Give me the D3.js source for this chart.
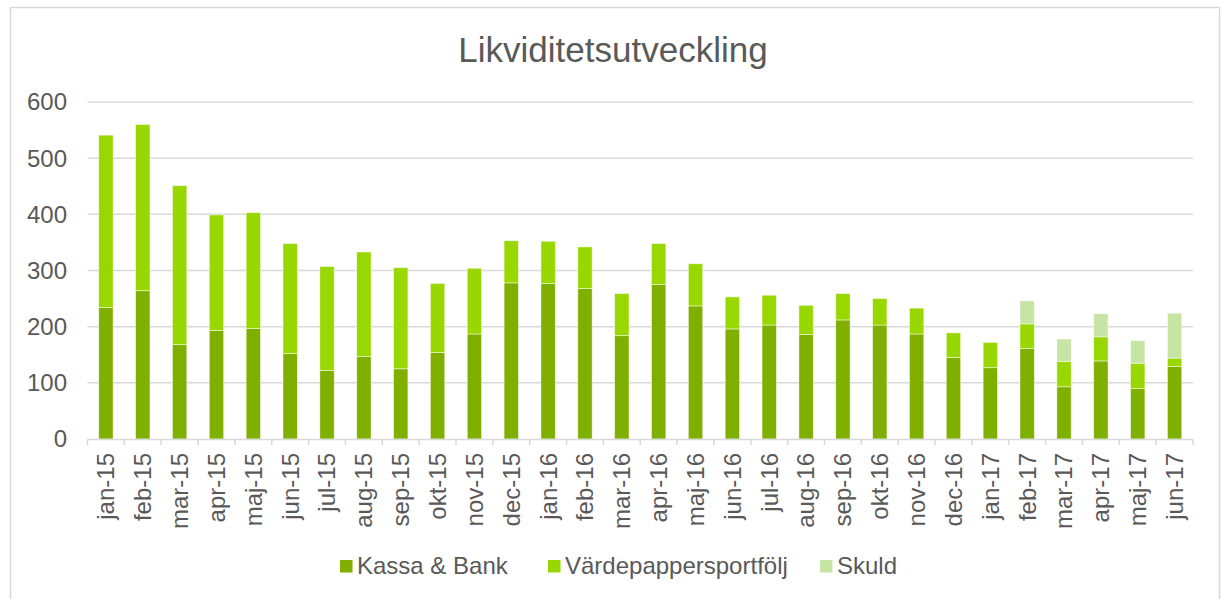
<!DOCTYPE html>
<html>
<head>
<meta charset="utf-8">
<script src="https://cdn.jsdelivr.net/npm/d3@7"></script>
<style>
  body { margin: 0; background: #fff; }
  text { font-family: "Liberation Sans", Arial, sans-serif; fill: #595959; }
</style>
</head>
<body>
<div id="chart"></div>
<script>
// months on the x axis
var months = ["jan-15", "feb-15", "mar-15", "apr-15", "maj-15", "jun-15", "jul-15", "aug-15",
  "sep-15", "okt-15", "nov-15", "dec-15", "jan-16", "feb-16", "mar-16", "apr-16", "maj-16",
  "jun-16", "jul-16", "aug-16", "sep-16", "okt-16", "nov-16", "dec-16", "jan-17", "feb-17",
  "mar-17", "apr-17", "maj-17", "jun-17"];

// series values
var kassa = [234, 264, 168, 193, 197, 152, 122, 147, 125, 154, 187, 278, 277, 268, 184,
  275, 237, 196, 203, 186, 212, 203, 187, 145, 127, 161, 93, 139, 90, 129];
var varde = [307, 296, 283, 206, 206, 196, 185, 186, 180, 123, 117, 75, 75, 74, 75,
  73, 75, 57, 53, 52, 47, 47, 46, 44, 45, 44, 45, 43, 45, 15];
var skuld = [0, 0, 0, 0, 0, 0, 0, 0, 0, 0, 0, 0, 0, 0, 0,
  0, 0, 0, 0, 0, 0, 0, 0, 0, 0, 41, 40, 41, 40, 80];

var seriesNames = ["Kassa & Bank", "Värdepappersportfölj", "Skuld"];
var seriesKeys = ["kassa", "varde", "skuld"];
var colors = ["#7fb000", "#99d700", "#c6e5a5"];
var yTicks = [0, 100, 200, 300, 400, 500, 600];

var width = 1222;
var height = 599;

var rows = months.map(function (m, i) {
  return {month: m, kassa: kassa[i], varde: varde[i], skuld: skuld[i]};
});

var stack = d3.stack().keys(seriesKeys);
var layers = stack(rows);

var svg = d3.select("#chart")
  .append("svg")
    .attr("width", width)
    .attr("height", height);

// outer frame
svg.append("rect")
  .attr("x", 10.5)
  .attr("y", 7.5)
  .attr("width", 1209)
  .attr("height", 610)
  .attr("fill", "#fff")
  .attr("stroke", "#d9d9d9")
  .attr("stroke-width", 1.5);

svg.append("text")
  .attr("x", 613)
  .attr("y", 62)
  .attr("text-anchor", "middle")
  .style("font-size", "35px")
  .text("Likviditetsutveckling");

var x = d3.scaleBand()
  .domain(months)
  .range([87.5, 1193])
  .paddingInner(0.61)
  .paddingOuter(0.305);

var y = d3.scaleLinear()
  .domain([0, 600])
  .range([439, 102]);

// grid
svg.append("g")
  .selectAll("line")
  .data(yTicks.slice(1))
  .enter()
  .append("line")
    .attr("x1", 87.5)
    .attr("x2", 1193)
    .attr("y1", function (d) { return y(d); })
    .attr("y2", function (d) { return y(d); })
    .attr("stroke", "#d9d9d9")
    .attr("stroke-width", 1.5);

// y labels
svg.append("g")
  .selectAll("text")
  .data(yTicks)
  .enter()
  .append("text")
    .attr("x", 67)
    .attr("y", function (d) { return y(d); })
    .attr("dy", "0.35em")
    .attr("text-anchor", "end")
    .style("font-size", "24px")
    .text(function (d) { return d; });

// bars
svg.append("g")
  .selectAll("g")
  .data(layers)
  .enter()
  .append("g")
    .attr("fill", function (d, i) { return colors[i]; })
  .selectAll("rect")
  .data(function (d) { return d; })
  .enter()
  .filter(function (d) { return d[1] > d[0]; })
  .append("rect")
    .attr("x", function (d) { return x(d.data.month); })
    .attr("width", x.bandwidth())
    .attr("y", function (d) { return y(d[1]); })
    .attr("height", function (d) { return y(d[0]) - y(d[1]); })
    .attr("stroke", "rgba(255,255,255,0.6)")
    .attr("stroke-width", 0.8);

// x axis line and ticks at band edges
var step = x.step();
var edges = months.map(function (m) { return x(m) - step * 0.305; });
edges.push(edges[edges.length - 1] + step);

svg.append("line")
  .attr("x1", 87.5)
  .attr("x2", 1193)
  .attr("y1", 439.5)
  .attr("y2", 439.5)
  .attr("stroke", "#d9d9d9")
  .attr("stroke-width", 1.5);

svg.append("g")
  .selectAll("line")
  .data(edges)
  .enter()
  .append("line")
    .attr("x1", function (d) { return d; })
    .attr("x2", function (d) { return d; })
    .attr("y1", 439.5)
    .attr("y2", 445)
    .attr("stroke", "#d9d9d9")
    .attr("stroke-width", 1.5);

svg.append("g")
  .selectAll("text")
  .data(months)
  .enter()
  .append("text")
    .attr("transform", function (d) {
      return "translate(" + (x(d) + x.bandwidth() / 2) + ",453) rotate(-90)";
    })
    .attr("dy", "0.35em")
    .attr("text-anchor", "end")
    .style("font-size", "24px")
    .text(function (d) { return d; });

// legend
var legendX = [340, 548, 820];
var items = svg.append("g")
  .selectAll("g")
  .data(seriesNames)
  .enter()
  .append("g")
    .attr("transform", function (d, i) { return "translate(" + legendX[i] + ",0)"; });

items.append("rect")
  .attr("width", 12.5)
  .attr("height", 12.5)
  .attr("y", 560)
  .attr("fill", function (d, i) { return colors[i]; });

items.append("text")
  .attr("x", 17)
  .attr("y", 566)
  .attr("dy", "0.35em")
  .style("font-size", "24px")
  .text(function (d) { return d; });
</script>
</body>
</html>
